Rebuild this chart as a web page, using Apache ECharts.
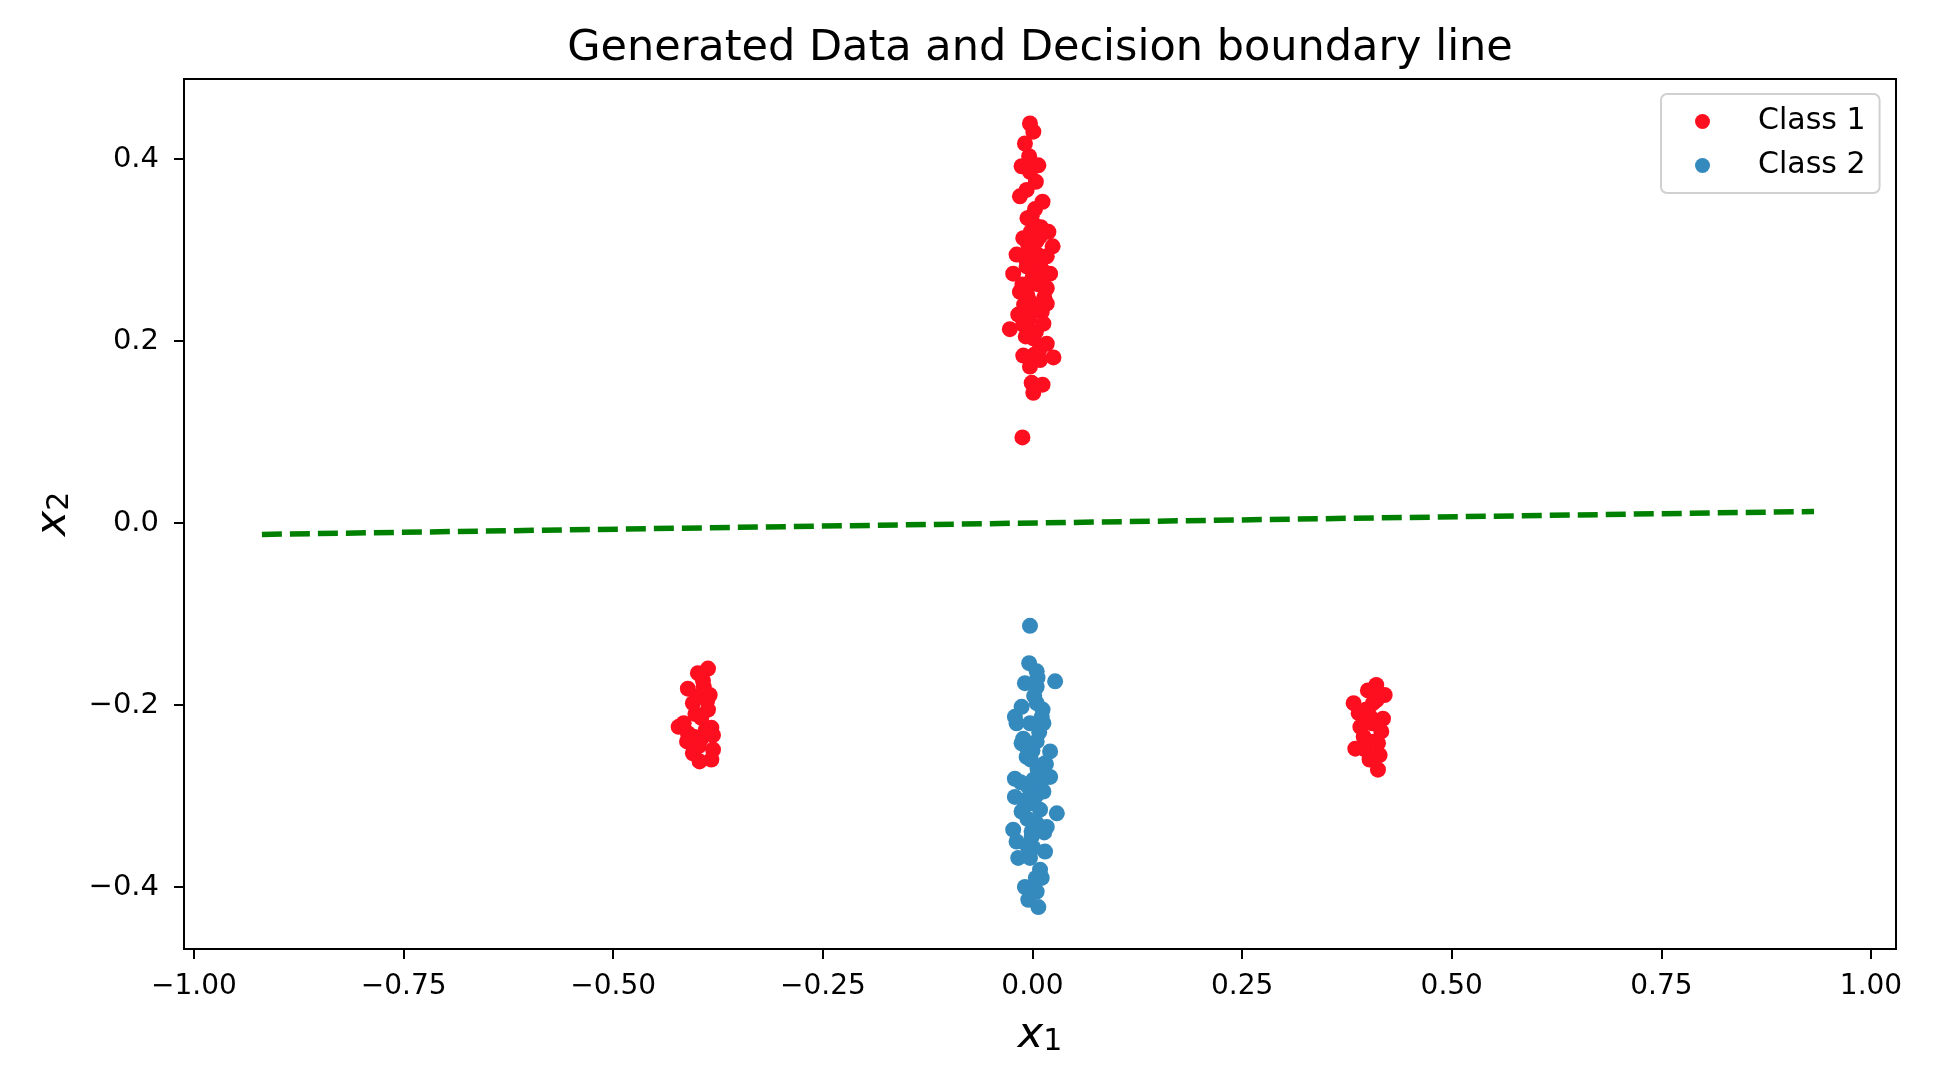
<!DOCTYPE html>
<html>
<head>
<meta charset="utf-8">
<script src="https://cdn.jsdelivr.net/npm/echarts@6/dist/echarts.min.js"></script>
<style>
html,body{margin:0;padding:0;background:#fff;}
#chart{width:1948px;height:1076px;}
</style>
</head>
<body>
<div id="chart"></div>
<script>
// ---- Data ----
const titleText = 'Generated Data and Decision boundary line';
const seriesNames = ['Class 1', 'Class 2'];

const class1X = [
  -0.003, 0.001, -0.009, -0.004, -0.013, 0.007, -0.003, -0.007, -0.015, 0.012,
  -0.001, 0.003, 0.019, -0.011, 0.009, 0.024, -0.019, -0.001, 0.017, -0.023,
  0.021, -0.007, 0.009, -0.015, 0.017, 0.001, -0.003, 0.017, -0.017, 0.011,
  -0.027, -0.011, 0.013, 0.001, 0.017, -0.011, 0.025, 0.009, -0.003, -0.001,
  0.012, 0.001, -0.012,
  0.005, -0.005, 0.010, 0.000, 0.008, -0.006, 0.006, -0.004, 0.004, 0.008,
  -0.002, 0.003, -0.008, 0.012, -0.010,
  0.015, -0.012, 0.006, -0.005, 0.014, 0.002, -0.008, 0.010, -0.006, 0.004,
  -0.387, -0.399, -0.393, -0.411, -0.385, -0.400, -0.405, -0.387, -0.395, -0.416,
  -0.422, -0.383, -0.411, -0.381, -0.412, -0.395, -0.381, -0.405, -0.397, -0.383,
  -0.400, -0.392, -0.402, -0.390, -0.398, -0.388, -0.404,
  0.410, 0.400, 0.420, 0.383, 0.406, 0.389, 0.418, 0.402, 0.391, 0.416,
  0.395, 0.385, 0.412, 0.414, 0.402, 0.412, 0.397, 0.405, 0.408, 0.398,
  0.410, 0.404
];
const class1Y = [
  0.439, 0.430, 0.417, 0.403, 0.392, 0.393, 0.386, 0.366, 0.359, 0.353,
  0.337, 0.327, 0.320, 0.313, 0.315, 0.304, 0.295, 0.298, 0.293, 0.274,
  0.274, 0.282, 0.285, 0.254, 0.258, 0.263, 0.243, 0.241, 0.229, 0.232,
  0.213, 0.218, 0.219, 0.203, 0.197, 0.184, 0.182, 0.179, 0.172, 0.154,
  0.152, 0.143, 0.094,
  0.310, 0.305, 0.280, 0.270, 0.262, 0.250, 0.235, 0.224, 0.210, 0.190,
  0.320, 0.345, 0.290, 0.266, 0.240,
  0.275, 0.262, 0.295, 0.228, 0.248, 0.185, 0.205, 0.325, 0.335, 0.375,
  -0.160, -0.165, -0.173, -0.182, -0.189, -0.191, -0.198, -0.205, -0.214, -0.220,
  -0.224, -0.225, -0.231, -0.233, -0.240, -0.237, -0.249, -0.253, -0.262, -0.260,
  -0.246, -0.180, -0.210, -0.228, -0.245, -0.195, -0.235,
  -0.178, -0.184, -0.189, -0.198, -0.198, -0.209, -0.215, -0.212, -0.224, -0.229,
  -0.235, -0.248, -0.242, -0.255, -0.260, -0.271, -0.249, -0.220, -0.240, -0.205,
  -0.195, -0.258
];

const class2X = [
  -0.003, -0.004, 0.005, 0.027, -0.009, 0.005, -0.013, 0.005, -0.021, -0.019,
  0.011, 0.013, -0.011, -0.013, 0.005, 0.021, -0.007, 0.015, -0.021, 0.021,
  0.001, -0.021, 0.013, -0.003, 0.029, -0.013, 0.009, -0.023, 0.017, -0.001,
  -0.019, -0.001, 0.015, 0.001, -0.017, -0.003, 0.009, 0.011, -0.009, 0.005,
  -0.005, 0.007,
  0.002, -0.003, 0.000, 0.006, -0.005, 0.004, -0.006, 0.005, -0.002, 0.008,
  0.012, -0.008, 0.010, -0.010, 0.014, -0.006, 0.004, 0.016, -0.014, 0.006
];
const class2Y = [
  -0.113, -0.154, -0.163, -0.174, -0.176, -0.180, -0.202, -0.198, -0.213, -0.220,
  -0.213, -0.220, -0.237, -0.242, -0.240, -0.251, -0.257, -0.264, -0.281, -0.279,
  -0.282, -0.301, -0.295, -0.308, -0.319, -0.317, -0.315, -0.337, -0.334, -0.339,
  -0.350, -0.345, -0.361, -0.357, -0.368, -0.368, -0.381, -0.390, -0.400, -0.405,
  -0.414, -0.422,
  -0.190, -0.220, -0.250, -0.270, -0.290, -0.300, -0.325, -0.330, -0.260, -0.230,
  -0.205, -0.245, -0.285, -0.305, -0.340, -0.355, -0.390, -0.265, -0.285, -0.170
];

const boundaryX = [-0.919, 0.932];
const boundaryY = [-0.0125, 0.0127];

const xTicks = [-1.0, -0.75, -0.5, -0.25, 0.0, 0.25, 0.5, 0.75, 1.0];
const yTicks = [-0.4, -0.2, 0.0, 0.2, 0.4];

// ---- Build options ----
const zip = (xs, ys) => xs.map((x, i) => [x, ys[i]]);
const FONT = 'DejaVu Sans';
const minus = s => s.replace('-', '\u2212');

const chart = echarts.init(document.getElementById('chart'), null, {renderer: 'canvas'});
chart.setOption({
  animation: false,
  backgroundColor: '#ffffff',
  textStyle: {fontFamily: FONT},
  title: {
    text: titleText,
    left: 1035,
    textAlign: 'center',
    top: 22,
    textStyle: {fontFamily: FONT, fontSize: 43, fontWeight: 'normal', color: '#000'}
  },
  legend: {
    data: seriesNames,
    orient: 'vertical',
    left: 1661,
    top: 94,
    padding: [12, 14, 12, 34],
    itemGap: 13,
    itemWidth: 15,
    itemHeight: 15,
    icon: 'circle',
    backgroundColor: '#ffffff',
    borderColor: '#d0d0d0',
    borderWidth: 2,
    borderRadius: 6,
    textStyle: {fontFamily: FONT, fontSize: 30, color: '#000', padding: [0, 0, 0, 43], lineHeight: 31}
  },
  grid: {
    left: 184, right: 52, top: 79, bottom: 127,
    show: true, borderColor: '#000', borderWidth: 2, backgroundColor: '#fff'
  },
  xAxis: {
    type: 'value',
    min: -1.0119, max: 1.0298,
    name: '{i|x}{s|1}',
    nameLocation: 'middle',
    nameGap: 65,
    nameTextStyle: {
      rich: {
        i: {fontFamily: FONT, fontStyle: 'italic', fontSize: 43, lineHeight: 43, verticalAlign: 'bottom', color: '#000'},
        s: {fontFamily: FONT, fontSize: 30, lineHeight: 16, verticalAlign: 'bottom', color: '#000'}
      }
    },
    splitLine: {show: false},
    axisLine: {show: true, onZero: false, lineStyle: {color: '#000', width: 2}},
    axisTick: {show: true, customValues: xTicks, length: 10, lineStyle: {color: '#000', width: 2}},
    axisLabel: {
      customValues: xTicks, margin: 24, fontFamily: FONT, fontSize: 28, color: '#000',
      formatter: v => minus(Number(v).toFixed(2))
    }
  },
  yAxis: {
    type: 'value',
    min: -0.4681, max: 0.4879,
    name: '{i|x}{s|2}',
    nameLocation: 'middle',
    nameRotate: 90,
    nameGap: 109,
    nameTextStyle: {
      rich: {
        i: {fontFamily: FONT, fontStyle: 'italic', fontSize: 43, lineHeight: 43, verticalAlign: 'bottom', color: '#000'},
        s: {fontFamily: FONT, fontSize: 30, lineHeight: 16, verticalAlign: 'bottom', color: '#000'}
      }
    },
    splitLine: {show: false},
    axisLine: {show: true, onZero: false, lineStyle: {color: '#000', width: 2}},
    axisTick: {show: true, customValues: yTicks, length: 10, lineStyle: {color: '#000', width: 2}},
    axisLabel: {
      customValues: yTicks, margin: 25, fontFamily: FONT, fontSize: 29, color: '#000',
      formatter: v => minus(Number(v).toFixed(1))
    }
  },
  series: [
    {
      name: seriesNames[0],
      type: 'scatter',
      symbol: 'circle',
      symbolSize: 16,
      itemStyle: {color: '#fd0f20', opacity: 1},
      data: zip(class1X, class1Y),
      z: 3
    },
    {
      name: seriesNames[1],
      type: 'scatter',
      symbol: 'circle',
      symbolSize: 16,
      itemStyle: {color: '#348abd', opacity: 1},
      data: zip(class2X, class2Y),
      z: 3
    },
    {
      name: 'boundary',
      type: 'line',
      showSymbol: false,
      symbol: 'none',
      lineStyle: {color: '#008000', width: 5.5, type: [20, 8]},
      data: zip(boundaryX, boundaryY),
      z: 2
    }
  ]
});
</script>
</body>
</html>
